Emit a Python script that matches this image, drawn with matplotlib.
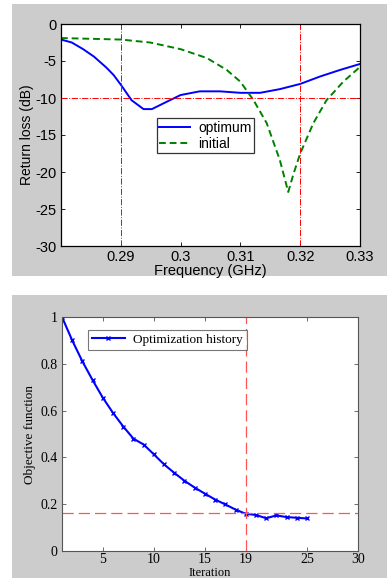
import matplotlib
matplotlib.use("Agg")
import matplotlib.pyplot as plt
from matplotlib.patches import Rectangle

# ---- Top panel data ----
freq_opt = [0.2800, 0.2818, 0.2837, 0.2855, 0.2876, 0.2888, 0.2900, 0.2918, 0.2938,
            0.2952, 0.2977, 0.3000, 0.3032, 0.3066, 0.3100, 0.3133, 0.3166, 0.3200,
            0.3233, 0.3267, 0.3300]
rl_opt = [-2.1, -2.5, -3.4, -4.4, -5.9, -6.9, -8.2, -10.3, -11.5,
          -11.5, -10.5, -9.6, -9.1, -9.1, -9.3, -9.3, -8.8, -8.1,
          -7.1, -6.2, -5.4]
freq_init = [0.2800, 0.2900, 0.2949, 0.3000, 0.3044, 0.3077, 0.3100, 0.3122, 0.3144,
             0.3166, 0.3180, 0.3189, 0.3200, 0.3222, 0.3244, 0.3272, 0.3300]
rl_init = [-1.9, -2.1, -2.5, -3.4, -4.6, -6.2, -7.8, -10.3, -13.4,
           -18.4, -22.7, -20.2, -17.5, -13.4, -10.3, -7.8, -5.8]
freq_ticks = [0.29, 0.30, 0.31, 0.32, 0.33]
freq_ticklabels = ["0.29", "0.3", "0.31", "0.32", "0.33"]
rl_ticks = [0, -5, -10, -15, -20, -25, -30]
ref_freqs = [0.29, 0.32]
ref_rl = -10

# ---- Bottom panel data ----
iterations = list(range(1, 26))
objective = [1.0, 0.90, 0.81, 0.73, 0.655, 0.59, 0.532, 0.48, 0.455, 0.413,
             0.37, 0.334, 0.30, 0.271, 0.245, 0.22, 0.199, 0.177, 0.159, 0.154,
             0.140, 0.152, 0.145, 0.142, 0.139]
iter_ticks = [5, 10, 15, 19, 25, 30]
obj_ticks = [0, 0.2, 0.4, 0.6, 0.8, 1.0]
obj_ticklabels = ["0", "0.2", "0.4", "0.6", "0.8", "1"]
ref_iter = 19
ref_obj = 0.162

W, H = 387, 578
fig = plt.figure(figsize=(W / 100, H / 100), dpi=100)
fig.patch.set_facecolor("white")

def frect(x0, y0, x1, y1):
    return [x0 / W, 1 - y1 / H, (x1 - x0) / W, (y1 - y0) / H]

gray = "#cccccc"
r = frect(12, 4, 387, 276)
fig.patches.append(Rectangle((r[0], r[1]), r[2], r[3], transform=fig.transFigure,
                             facecolor=gray, edgecolor="none", zorder=-10))
r = frect(12, 295, 387, 578)
fig.patches.append(Rectangle((r[0], r[1]), r[2], r[3], transform=fig.transFigure,
                             facecolor=gray, edgecolor="none", zorder=-10))

# ---- Top axes ----
sans = ["Liberation Sans", "DejaVu Sans"]
ax1 = fig.add_axes(frect(61, 24, 360, 246))
ax1.plot(freq_opt, rl_opt, color="#0000ff", lw=1.4, label="optimum")
ax1.plot(freq_init, rl_init, color="#008000", lw=1.4, ls=(0, (3.5, 2)), label="initial")
for f in ref_freqs:
    ax1.axvline(f, color="red", lw=0.7, ls="-.")
ax1.axhline(ref_rl, color="red", lw=0.7, ls="-.")
ax1.set_xlim(0.28, 0.33)
ax1.set_ylim(-30, 0)
ax1.set_xticks(freq_ticks)
ax1.set_xticklabels(freq_ticklabels, fontfamily=sans, fontsize=10.5)
ax1.set_yticks(rl_ticks)
ax1.set_yticklabels([str(t) for t in rl_ticks], fontfamily=sans, fontsize=10.5)
ax1.tick_params(direction="in", top=True, right=True, length=3, width=0.6, pad=3)
ax1.set_xlabel("Frequency (GHz)", fontfamily=sans, fontsize=10.5, labelpad=0)
ax1.set_ylabel("Return loss (dB)", fontfamily=sans, fontsize=10, labelpad=1)
for s in ax1.spines.values():
    s.set_linewidth(0.9)
leg = ax1.legend(loc="upper left", bbox_to_anchor=(0.32, 0.575), prop={"family": sans, "size": 10},
                 frameon=True, fancybox=False, edgecolor="black", handlelength=2.2,
                 borderpad=0.2, labelspacing=0.1, handletextpad=0.6, borderaxespad=0)
leg.get_frame().set_linewidth(0.9)

# ---- Bottom axes ----
serif = ["Liberation Serif", "DejaVu Serif"]
ax2 = fig.add_axes(frect(62, 317, 358, 551))
ax2.plot(iterations, objective, color="#0000ff", lw=1.5, marker="x", ms=3, mew=1,
         label="Optimization history")
ax2.axvline(ref_iter, color="#ff5555", lw=0.9, ls=(0, (9, 4)))
ax2.axhline(ref_obj, color="#ff5555", lw=0.9, ls=(0, (9, 4)))
ax2.set_xlim(1, 30)
ax2.set_ylim(0, 1)
ax2.set_xticks(iter_ticks)
ax2.set_xticklabels([str(t) for t in iter_ticks], fontfamily=serif, fontsize=10)
ax2.set_yticks(obj_ticks)
ax2.set_yticklabels(obj_ticklabels, fontfamily=serif, fontsize=10)
ax2.tick_params(direction="in", top=True, right=True, length=3, width=0.6, pad=3,
                color="#555555")
ax2.tick_params(axis="x", pad=1.5)
ax2.set_xlabel("Iteration", fontfamily=serif, fontsize=9, labelpad=0.5)
ax2.set_ylabel("Objective function", fontfamily=serif, fontsize=9.5, labelpad=3)
for s in ax2.spines.values():
    s.set_linewidth(0.8)
    s.set_color("#555555")
leg2 = ax2.legend(loc="upper left", bbox_to_anchor=(0.088, 0.945), prop={"family": serif, "size": 9.5},
                  frameon=True, fancybox=False, edgecolor="#555555", handlelength=2.5,
                  borderpad=0.3, handletextpad=0.6, borderaxespad=0)
leg2.get_frame().set_linewidth(0.8)

fig.savefig("out.png", dpi=100)
